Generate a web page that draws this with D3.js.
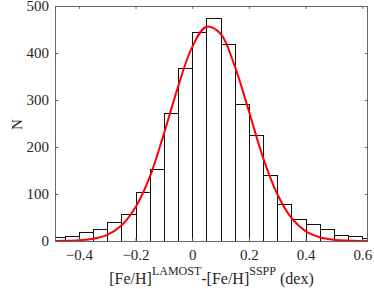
<!DOCTYPE html>
<html>
<head>
<meta charset="utf-8">
<script src="https://cdn.jsdelivr.net/npm/d3@7"></script>
<style>
  body { margin: 0; background: #fff; }
  text { font-family: "Liberation Serif", "Times New Roman", serif; fill: #262626; }
</style>
</head>
<body>
<script>
// histogram bins (left edge) and counts
var binStart = [-0.5, -0.45, -0.4, -0.35, -0.3, -0.25, -0.2, -0.15, -0.1, -0.05,
                0, 0.05, 0.1, 0.15, 0.2, 0.25, 0.3, 0.35, 0.4, 0.45, 0.5, 0.55, 0.6];
var counts = [8, 10, 19, 26, 41, 57, 104, 153, 272, 368,
              445, 475, 420, 292, 226, 140, 79, 46, 36, 25, 12, 10, 7];
var binWidth = 0.05;

// red fit curve
var fitX = [-0.485, -0.45, -0.4, -0.35, -0.3, -0.25, -0.2, -0.15, -0.1, -0.05,
            0, 0.05, 0.1, 0.15, 0.2, 0.25, 0.3, 0.35, 0.4, 0.45, 0.5, 0.55, 0.6, 0.62];
var fitY = [0.2, 0.4, 1.5, 4.8, 13, 33, 72, 136, 228, 328,
            413, 456, 441, 372, 276, 177, 100, 49, 21, 8, 2.6, 0.8, 0.2, 0.1];

var xTicks = [-0.4, -0.2, 0, 0.2, 0.4, 0.6];
var yTicks = [0, 100, 200, 300, 400, 500];

var W = 374, H = 289;
var m = {left: 55, top: 6, right: 6, bottom: 48};
var w = W - m.left - m.right;   // plot width
var h = H - m.top - m.bottom;   // plot height

var svg = d3.select("body").append("svg")
    .attr("width", W)
    .attr("height", H);

var x = d3.scaleLinear().domain([-0.484, 0.62]).range([0, w]);
var y = d3.scaleLinear().domain([0, 500]).range([h, 0]);

svg.append("defs").append("clipPath").attr("id", "clip")
  .append("rect").attr("width", w).attr("height", h);

var g = svg.append("g").attr("transform", "translate(" + m.left + "," + m.top + ")");

var plot = g.append("g").attr("clip-path", "url(#clip)");

// bars
plot.selectAll("rect.bar")
    .data(counts)
    .enter()
    .append("rect")
    .attr("class", "bar")
    .attr("x", function(d, i) { return Math.round(x(binStart[i])) + 0.5; })
    .attr("width", function(d, i) { return Math.round(x(binStart[i] + binWidth)) - Math.round(x(binStart[i])); })
    .attr("y", function(d) { return Math.round(y(d)) + 0.5; })
    .attr("height", function(d) { return h - Math.round(y(d)); })
    .attr("fill", "#fff")
    .attr("stroke", "#111")
    .attr("stroke-width", 1);

// fit curve
var line = d3.line()
    .x(function(d, i) { return x(fitX[i]); })
    .y(function(d) { return y(d); })
    .curve(d3.curveCatmullRom);

plot.append("path")
    .datum(fitY)
    .attr("d", line)
    .attr("fill", "none")
    .attr("stroke", "#ff0000")
    .attr("stroke-width", 2);

// axes - ticks pointing inward, box all round
var tickLen = 3;
var axisCol = "#666";

var xb = g.append("g").attr("transform", "translate(0," + h + ")")
    .call(d3.axisBottom(x).tickValues(xTicks).tickSize(-tickLen).tickPadding(8)
      .tickFormat(function(d) { return d === 0 ? "0" : d3.format(".1f")(d); }));
var xt = g.append("g")
    .call(d3.axisTop(x).tickValues(xTicks).tickSize(-tickLen).tickFormat(""));
var yl = g.append("g")
    .call(d3.axisLeft(y).tickValues(yTicks).tickSize(-tickLen).tickPadding(6));
var yr = g.append("g").attr("transform", "translate(" + w + ",0)")
    .call(d3.axisRight(y).tickValues(yTicks).tickSize(-tickLen).tickFormat(""));

[xb, xt, yl, yr].forEach(function(a) {
  a.select(".domain").remove();
  a.selectAll("line").attr("stroke", axisCol);
  a.selectAll("text").attr("font-size", 15).attr("fill", "#262626")
    .style("font-family", '"Liberation Serif", serif');
});

g.append("rect")
    .attr("x", 0.5).attr("y", 0.5)
    .attr("width", w - 1).attr("height", h)
    .attr("fill", "none")
    .attr("stroke", axisCol)
    .attr("stroke-width", 1);

// axis labels
var xl = svg.append("text")
    .attr("x", m.left + w / 2)
    .attr("y", 284)
    .attr("text-anchor", "middle")
    .attr("font-size", 16);
xl.append("tspan").text("[Fe/H]");
xl.append("tspan").attr("font-size", 12).attr("dy", -9).text("LAMOST");
xl.append("tspan").attr("dy", 9).text("-[Fe/H]");
xl.append("tspan").attr("font-size", 12).attr("dy", -9).text("SSPP");
xl.append("tspan").attr("dy", 9).text(" (dex)");

svg.append("text")
    .attr("transform", "translate(22," + (m.top + h / 2 + 1) + ") rotate(-90)")
    .attr("text-anchor", "middle")
    .attr("font-size", 15)
    .text("N");
</script>
</body>
</html>
